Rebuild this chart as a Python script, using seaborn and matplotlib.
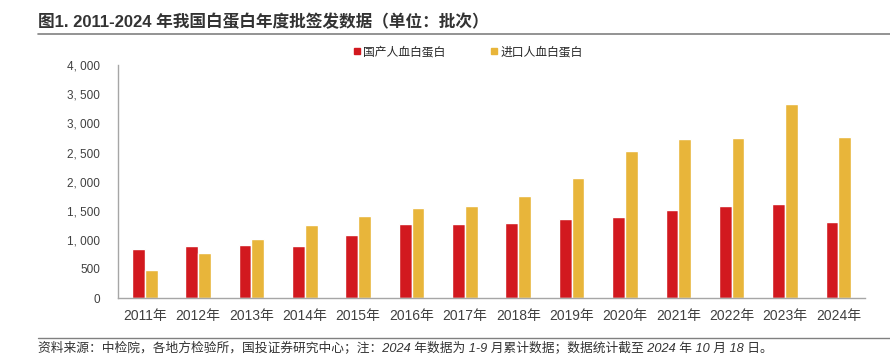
import pandas as pd
import seaborn as sns
import matplotlib.pyplot as plt
from matplotlib.ticker import FuncFormatter, FixedLocator
from matplotlib.lines import Line2D

# data
years = ["2011年", "2012年", "2013年", "2014年", "2015年", "2016年", "2017年",
         "2018年", "2019年", "2020年", "2021年", "2022年", "2023年", "2024年"]
domestic = [846, 897, 910, 892, 1082, 1265, 1270, 1289, 1361, 1396, 1516, 1579, 1619, 1310]
imported = [488, 772, 1017, 1253, 1403, 1552, 1580, 1751, 2060, 2529, 2740, 2747, 3341, 2764]
series_names = ["国产人血白蛋白", "进口人血白蛋白"]
colors = ["#D2191F", "#E8B53A"]

df = pd.DataFrame({
    "year": years * 2,
    "value": domestic + imported,
    "type": [series_names[0]] * len(years) + [series_names[1]] * len(years),
})

sns.set_style("white")
plt.rcParams["font.family"] = ["Liberation Sans", "Noto Sans CJK SC", "DejaVu Sans"]

fig = plt.figure(figsize=(8.9, 3.6), dpi=100)
ax = fig.add_axes([0.1326, 0.172, 0.8394, 0.647])

sns.barplot(data=df, x="year", y="value", hue="type", palette=colors,
            width=0.48, gap=0, saturation=1, ax=ax, legend=False)

ax.set_xlim(-0.5, len(years) - 0.5)
ax.set_ylim(0, 4000)
ax.set_yticks(range(0, 4001, 500))
ax.yaxis.set_major_formatter(FuncFormatter(lambda v, p: f"{int(v):,}".replace(",", ", ")))
ax.set_xlabel("")
ax.set_ylabel("")

grey = "#A6A6A6"
for s in ["top", "right"]:
    ax.spines[s].set_visible(False)
for s in ["left", "bottom"]:
    ax.spines[s].set_color(grey)
    ax.spines[s].set_linewidth(1.0)

ax.tick_params(axis="y", which="major", length=3, color=grey, direction="out",
               labelsize=8.5, labelcolor="#404040", pad=10)
ax.tick_params(axis="x", which="major", length=0, labelsize=10,
               labelcolor="#404040", pad=8)
ax.xaxis.set_minor_locator(FixedLocator([i - 0.5 for i in range(len(years) + 1)]))
ax.tick_params(axis="x", which="minor", length=4, color=grey, direction="out")

handles = [Line2D([], [], marker="s", linestyle="", markersize=5,
                  markerfacecolor=c, markeredgecolor=c) for c in colors]
fig.legend(handles, series_names, loc="center", bbox_to_anchor=(0.525, 0.855),
           ncol=2, frameon=False, fontsize=8.5, handletextpad=0.1,
           columnspacing=3.8, handlelength=0.8)

# title and source
fig.text(0.043, 0.925, "图1. 2011-2024 年我国白蛋白年度批签发数据（单位：批次）",
         fontsize=12, fontweight="bold", color="#333333", va="baseline")
fig.add_artist(Line2D([0.043, 1.0], [0.905, 0.905], color="#808080", lw=1.2))
fig.add_artist(Line2D([0.043, 1.0], [0.062, 0.062], color="#808080", lw=1.0))
fig.text(0.043, 0.022,
         "资料来源：中检院，各地方检验所，国投证券研究中心；注：2024 年数据为 1-9 月累计数据；数据统计截至 2024 年 10 月 18 日。",
         fontsize=9.2, color="#333333", style="italic", va="baseline")

fig.savefig("out.png", dpi=100)
